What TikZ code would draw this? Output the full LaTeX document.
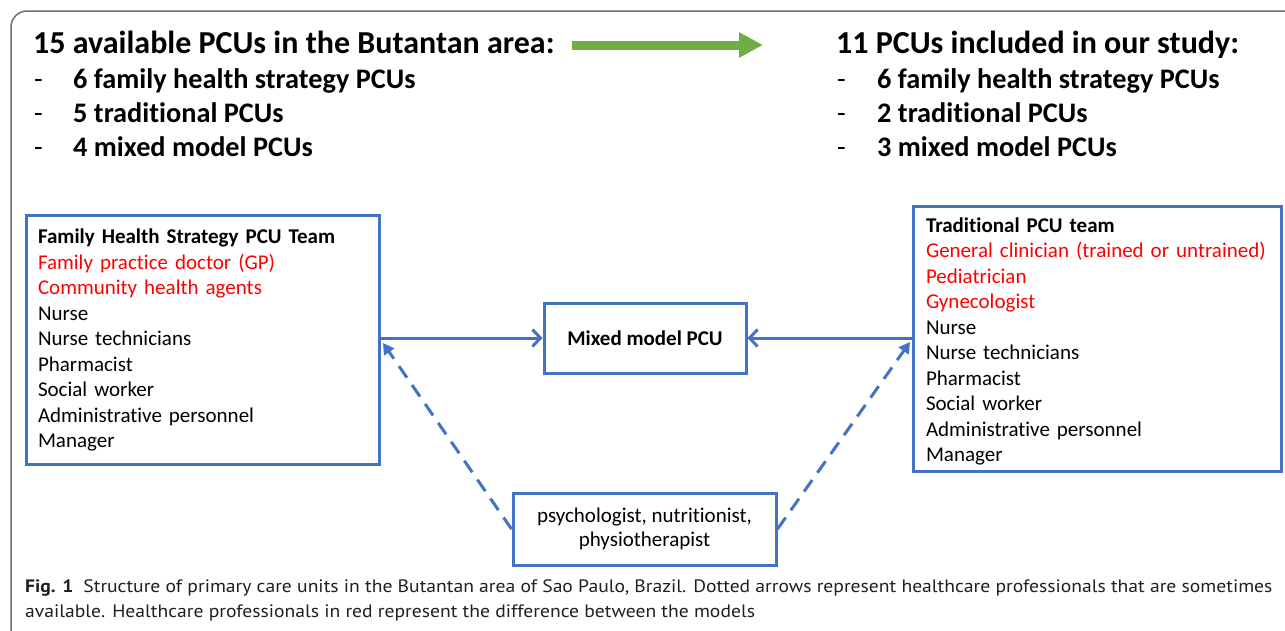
\documentclass[tikz,border=0pt]{standalone}
\usepackage{fontspec}
\setmainfont[Ligatures=NoCommon]{Carlito}
\newfontfamily\capfont[FakeStretch=1.09]{PT Sans}
\usetikzlibrary{arrows.meta,calc}
\definecolor{boxblue}{HTML}{4472C4}
\definecolor{arrgreen}{HTML}{70AD47}
\definecolor{txtred}{HTML}{FF0000}
\definecolor{framegray}{HTML}{707070}
\definecolor{captext}{HTML}{231F20}
\begin{document}
\begin{tikzpicture}[x=1pt,y=-1pt,
  headtext/.style={anchor=base west, inner sep=0pt, font=\fontsize{32}{36}\selectfont\bfseries},
  itemtext/.style={anchor=base west, inner sep=0pt, font=\fontsize{28.3}{32}\selectfont\bfseries},
  headdash/.style={anchor=base west, inner sep=0pt, font=\fontsize{28.3}{32}\selectfont},
  teambox/.style={draw=boxblue, line width=3pt, align=left, anchor=north west,
    font=\fontsize{21}{25.5}\selectfont},
  plainbox/.style={draw=boxblue, line width=3pt, align=center,
    font=\fontsize{21}{24}\selectfont},
  solidconn/.style={draw=boxblue, line width=3pt, -{Straight Barb[length=8pt,width=17pt]}},
  dashconn/.style={draw=boxblue, line width=3pt, dash pattern=on 14pt off 9pt, -{Triangle[length=11pt,width=12pt]}},
  captxt/.style={anchor=base west, inner sep=0pt, text=captext, font=\capfont\fontsize{18}{20}\selectfont}]
\clip (0,0) rectangle (1285,630);
\fill[white] (0,0) rectangle (1285,630);
\draw[framegray, line width=1.5pt, rounded corners=16pt] (1300,11) -- (11,11) -- (11,660);

% headings
\node[headtext] (lt) at (33,53) {15 available PCUs in the Butantan area:};
\node[headdash] (ld1) at (34,88) {-};
\node[itemtext] (l1) at (73,88) {6 family health strategy PCUs};
\node[headdash] (ld2) at (34,122) {-};
\node[itemtext] (l2) at (73,122) {5 traditional PCUs};
\node[headdash] (ld3) at (34,156) {-};
\node[itemtext] (l3) at (73,156) {4 mixed model PCUs};

\node[headtext] (rt) at (836,53) {11 PCUs included in our study:};
\node[headdash] (rd1) at (837,88) {-};
\node[itemtext] (r1) at (877,88) {6 family health strategy PCUs};
\node[headdash] (rd2) at (837,122) {-};
\node[itemtext] (r2) at (877,122) {2 traditional PCUs};
\node[headdash] (rd3) at (837,156) {-};
\node[itemtext] (r3) at (877,156) {3 mixed model PCUs};

\coordinate (ga) at (572,45);
\coordinate (gb) at (763,45);
\draw[arrgreen, line width=9pt, -{Triangle[length=24pt,width=24pt]}] (ga) -- (gb);

% boxes
\node[teambox, inner xsep=11.5pt, text width=330pt, minimum height=249pt] (fhs) at (25,214)
 {\textbf{Family Health Strategy PCU Team}\\
  \textcolor{txtred}{Family practice doctor (GP)}\\
  \textcolor{txtred}{Community health agents}\\
  Nurse\\
  Nurse technicians\\
  Pharmacist\\
  Social worker\\
  Administrative personnel\\
  Manager};

\node[teambox, inner xsep=12.5pt, text width=343pt, minimum height=265pt] (trad) at (912,205)
 {\rule{0pt}{20pt}\textbf{Traditional PCU team}\\
  \textcolor{txtred}{General clinician (trained or untrained)}\\
  \textcolor{txtred}{Pediatrician}\\
  \textcolor{txtred}{Gynecologist}\\
  Nurse\\
  Nurse technicians\\
  Pharmacist\\
  Social worker\\
  Administrative personnel\\
  Manager};

\node[plainbox, minimum width=202pt, minimum height=70pt] (mix) at (645,338) {\textbf{Mixed model PCU}};
\node[plainbox, minimum width=263pt, minimum height=72pt] (psy) at (644.5,529)
 {psychologist, nutritionist,\\ physiotherapist};

% connectors
\draw[solidconn] (fhs.east |- mix.west) -- (mix.west);
\draw[solidconn] (trad.west |- mix.east) -- (mix.east);
\draw[dashconn] (psy.west) -- ($(fhs.east)+(2,3)$);
\draw[dashconn] (psy.east) -- ($(trad.west)+(-2,3)$);

% caption
\node[captxt] (cap1) at (25,592) {\textbf{Fig. 1}\hspace{0.55em}Structure of primary care units in the Butantan area of Sao Paulo, Brazil. Dotted arrows represent healthcare professionals that are sometimes};
\node[captxt] (cap2) at (25,617) {available. Healthcare professionals in red represent the difference between the models};
\end{tikzpicture}
\end{document}
